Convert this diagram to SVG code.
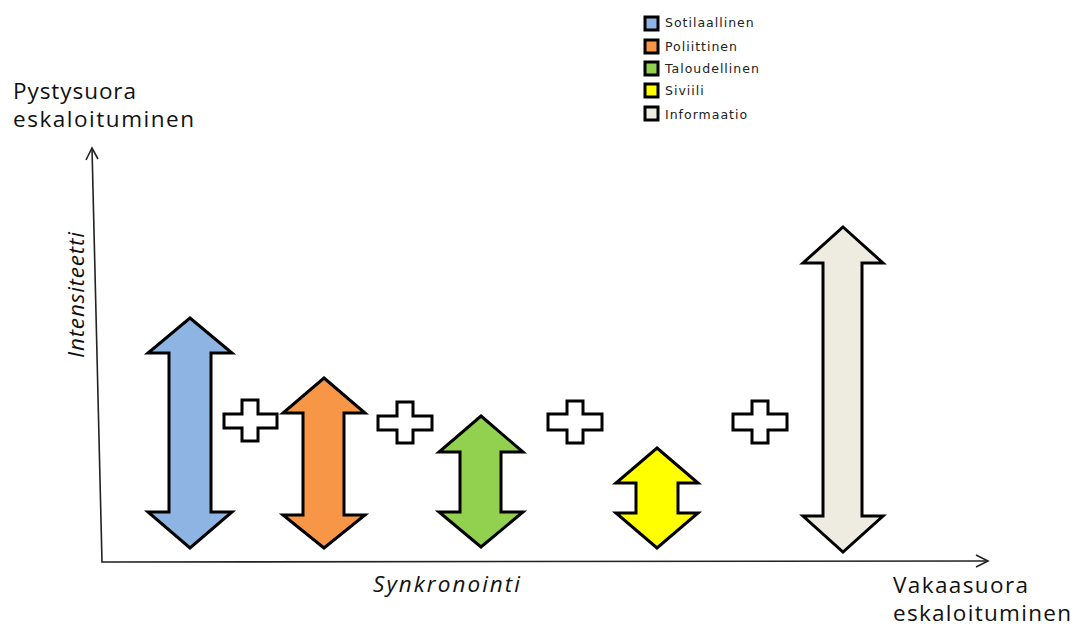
<svg xmlns="http://www.w3.org/2000/svg" width="1077" height="628" viewBox="0 0 1077 628">
<style>
.arr{stroke:#000;stroke-width:3;stroke-linejoin:miter}
.plus{fill:#fff;stroke:#000;stroke-width:3}
.axis{fill:none;stroke:#222;stroke-width:1.6}
.lbl{font-family:"Open Sans","Liberation Sans",sans-serif;font-size:22.5px;fill:#111}
.it{font-style:italic}
.leg{font-family:"DejaVu Sans","Liberation Sans",sans-serif;font-size:12.5px;letter-spacing:1px;fill:#222}
.sq{stroke:#000;stroke-width:3}
</style>
<rect width="1077" height="628" fill="#fff"/>
<g id="axes" class="connectors">
<path class="axis" d="M92,148 L102,562 L988,561"/>
<path class="axis" d="M86,160 L92,148 L98,159"/>
<path class="axis" d="M976,555 L988,561 L976,567"/>
</g>
<g id="labels">
<text class="lbl" x="13" y="99" textLength="123" lengthAdjust="spacing">Pystysuora</text>
<text class="lbl" x="13" y="127" textLength="181" lengthAdjust="spacing">eskaloituminen</text>
<text class="lbl" x="893" y="593" textLength="135" lengthAdjust="spacing">Vakaasuora</text>
<text class="lbl" x="893" y="621" textLength="178" lengthAdjust="spacing">eskaloituminen</text>
<text class="lbl it" x="373" y="592" textLength="147" lengthAdjust="spacing">Synkronointi</text>
<text class="lbl it" transform="translate(84,358) rotate(-90)" textLength="126" lengthAdjust="spacing">Intensiteetti</text>
</g>
<g id="arrow-sotilaallinen">
<polygon class="arr" fill="#8EB4E3" points="190,318 232,353 211,353 211,512 232,512 190,548 148,512 169,512 169,353 148,353"/>
</g>
<g id="arrow-poliittinen">
<polygon class="arr" fill="#F79646" points="324,378 365,413 344,413 344,515 365,515 324,548 283,515 303,515 303,413 283,413"/>
</g>
<g id="arrow-taloudellinen">
<polygon class="arr" fill="#92D050" points="481,416 523,452 501,452 501,512 523,512 481,547 439,512 460,512 460,452 439,452"/>
</g>
<g id="arrow-siviili">
<polygon class="arr" fill="#FFFF00" points="657,448 698,483 678,483 678,513 698,513 657,548 616,513 636,513 636,483 616,483"/>
</g>
<g id="arrow-informaatio">
<polygon class="arr" fill="#EEECE1" points="843,227 883,263 862,263 862,516 883,516 843,552 803,516 823,516 823,263 803,263"/>
</g>
<g id="plus-1">
<polygon class="plus" points="242,400 258,400 258,414 277,414 277,428 258,428 258,441 242,441 242,428 224,428 224,414 242,414"/>
</g>
<g id="plus-2">
<polygon class="plus" points="397,402 413,402 413,416 432,416 432,430 413,430 413,443 397,443 397,430 378,430 378,416 397,416"/>
</g>
<g id="plus-3">
<polygon class="plus" points="567,401 583,401 583,414 602,414 602,430 583,430 583,443 567,443 567,430 548,430 548,414 567,414"/>
</g>
<g id="plus-4">
<polygon class="plus" points="752,401 768,401 768,414 787,414 787,430 768,430 768,443 752,443 752,430 733,430 733,414 752,414"/>
</g>
<g id="legend">
<rect class="sq" x="645" y="17" width="13" height="13" fill="#8EB4E3"/>
<text class="leg" x="665" y="27">Sotilaallinen</text>
<rect class="sq" x="645" y="40" width="13" height="13" fill="#F79646"/>
<text class="leg" x="665" y="51">Poliittinen</text>
<rect class="sq" x="645" y="62" width="13" height="13" fill="#92D050"/>
<text class="leg" x="665" y="73">Taloudellinen</text>
<rect class="sq" x="645" y="84" width="13" height="13" fill="#FFFF00"/>
<text class="leg" x="665" y="95">Siviili</text>
<rect class="sq" x="645" y="107" width="13" height="13" fill="#EEECE1"/>
<text class="leg" x="665" y="119">Informaatio</text>
</g>
</svg>
